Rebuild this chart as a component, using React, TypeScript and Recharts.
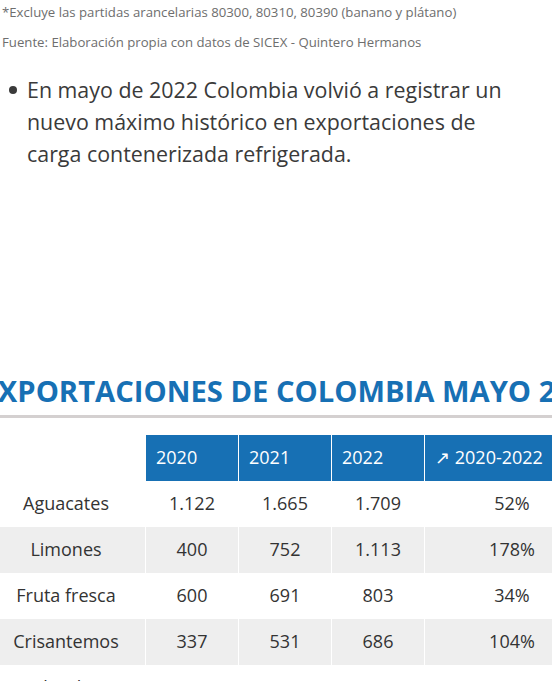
import { Scatter, ScatterChart, XAxis, YAxis } from "recharts";

// Table values (toneladas, mayo de cada año)
const products = ["Aguacates", "Limones", "Fruta fresca", "Crisantemos", "Claveles"];
const columns = ["2020", "2021", "2022", "↗ 2020-2022"];
const v2020 = [1122, 400, 600, 337, null];
const v2021 = [1665, 752, 691, 531, null];
const v2022 = [1709, 1113, 803, 686, null];
const growthPct = [52, 178, 34, 104, null];

const HEADER_KEY = "__header__";

const FONT = "'Open Sans', 'Noto Sans', 'DejaVu Sans', sans-serif";
const BLUE = "#1770b4";
const STRIPE = "#eeeeee";
const TEXT = "#333333";

const LABEL_W = 162;
const BAND = 93;
const ROW_H = 46;
const LAST_SPAN = 174;
const RIGHT_EXTRA = 100;

function formatMiles(v: number): string {
  return String(v).replace(/\B(?=(\d{3})+(?!\d))/g, ".");
}

type Cell = { row: string; col: string; text: string; header: boolean; stripe: boolean };

const cells: Cell[] = [];
columns.forEach((c) => cells.push({ row: HEADER_KEY, col: c, text: c, header: true, stripe: false }));
products.forEach((p, i) => {
  const vals = [v2020[i], v2021[i], v2022[i]];
  const texts = vals.map((v) => (v == null ? "" : formatMiles(v)));
  texts.push(growthPct[i] == null ? "" : `${growthPct[i]}%`);
  columns.forEach((c, j) =>
    cells.push({ row: p, col: c, text: texts[j], header: false, stripe: i % 2 === 1 })
  );
});

function CellShape(props: any) {
  const { cx, cy, payload } = props;
  const cell = payload as Cell;
  const isLast = cell.col === columns[columns.length - 1];
  const x0 = cx - BAND / 2;
  const w = isLast ? LAST_SPAN : BAND - 1;
  const fill = cell.header ? BLUE : cell.stripe ? STRIPE : "#ffffff";
  return (
    <g>
      <rect x={x0} y={cy - ROW_H / 2} width={w} height={ROW_H} fill={fill} />
      {cell.header ? (
        <text
          x={x0 + 10}
          y={cy}
          dy="0.36em"
          fill="#ffffff"
          fontSize={18}
          fontFamily={FONT}
        >
          {cell.text}
        </text>
      ) : (
        <text
          x={x0 + w / 2}
          y={cy}
          dy="0.36em"
          textAnchor="middle"
          fill={TEXT}
          fontSize={18}
          fontFamily={FONT}
        >
          {cell.text}
        </text>
      )}
    </g>
  );
}

function RowLabel(props: any) {
  const { y, payload } = props;
  if (payload.value === HEADER_KEY) return null;
  const i = products.indexOf(payload.value);
  return (
    <g>
      <rect
        x={0}
        y={y - ROW_H / 2}
        width={LABEL_W - 1}
        height={ROW_H}
        fill={i % 2 === 1 ? STRIPE : "#ffffff"}
      />
      <text
        x={LABEL_W / 2 + 1}
        y={y}
        dy="0.36em"
        textAnchor="middle"
        fill={TEXT}
        fontSize={18}
        fontFamily={FONT}
      >
        {payload.value}
      </text>
    </g>
  );
}

function ExportTable() {
  const rows = products.length + 1;
  return (
    <ScatterChart
      width={LABEL_W + BAND * columns.length + RIGHT_EXTRA}
      height={ROW_H * rows}
      margin={{ top: 0, right: RIGHT_EXTRA, bottom: 0, left: 0 }}
    >
      <XAxis
        dataKey="col"
        type="category"
        scale="band"
        allowDuplicatedCategory={false}
        hide
        height={0}
      />
      <YAxis
        dataKey="row"
        type="category"
        scale="band"
        allowDuplicatedCategory={false}
        reversed
        width={LABEL_W}
        axisLine={false}
        tickLine={false}
        interval={0}
        tick={<RowLabel />}
      />
      <Scatter data={cells} shape={<CellShape />} isAnimationActive={false} />
    </ScatterChart>
  );
}

export default function App() {
  return (
    <div
      style={{
        position: "absolute",
        left: 0,
        top: 0,
        width: 552,
        height: 681,
        overflow: "hidden",
        background: "#ffffff",
        fontFamily: FONT,
      }}
    >
      <div style={{ position: "absolute", left: 2, top: 3, fontSize: 13.2, lineHeight: "18px", color: "#6e6e6e", whiteSpace: "nowrap" }}>
        *Excluye las partidas arancelarias 80300, 80310, 80390 (banano y plátano)
      </div>
      <div style={{ position: "absolute", left: 2, top: 33, fontSize: 13.2, lineHeight: "18px", color: "#6e6e6e", whiteSpace: "nowrap" }}>
        Fuente: Elaboración propia con datos de SICEX - Quintero Hermanos
      </div>

      <div style={{ position: "absolute", left: 9, top: 86, width: 8, height: 8, borderRadius: 4, background: "#3a3a3a" }} />
      <div style={{ position: "absolute", left: 27, top: 74, fontSize: 21.4, lineHeight: "32px", color: "#3a3a3a", whiteSpace: "nowrap" }}>
        <div>En mayo de 2022 Colombia volvió a registrar un</div>
        <div>nuevo máximo histórico en exportaciones de</div>
        <div>carga contenerizada refrigerada.</div>
      </div>

      <div style={{ position: "absolute", left: -18.5, top: 372, fontSize: 29.2, lineHeight: "38px", fontWeight: 700, color: BLUE, whiteSpace: "nowrap" }}>
        EXPORTACIONES DE COLOMBIA MAYO 2022
      </div>
      <div style={{ position: "absolute", left: 0, top: 415, width: 552, height: 3, background: "#d4d0d0" }} />

      <div style={{ position: "absolute", left: -16, top: 435 }}>
        <ExportTable />
      </div>
    </div>
  );
}
